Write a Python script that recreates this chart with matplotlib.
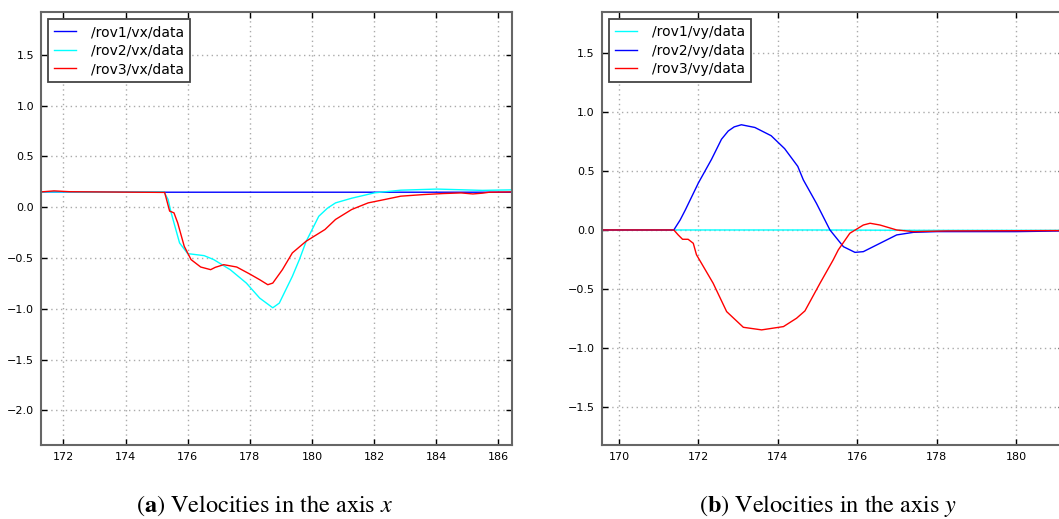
import matplotlib
matplotlib.use("Agg")
import matplotlib.pyplot as plt

plt.rcParams['mathtext.fontset'] = 'stix'

# ---- Data: (a) velocities in x ----
t_rov1_vx = [171.28, 172.0, 175.3, 180.0, 186.44]
v_rov1_vx = [0.150, 0.150, 0.147, 0.147, 0.147]

t_rov2_vx = [171.28, 172.0, 173.0, 175.24, 175.37, 175.47, 175.74, 176.0, 176.53, 176.84,
             177.37, 177.89, 178.32, 178.74, 178.95, 179.37, 179.6, 179.81, 180.22, 180.5,
             180.76, 181.28, 182.02, 182.86, 184.02, 185.49, 186.0, 186.44]
v_rov2_vx = [0.150, 0.150, 0.148, 0.150, 0.076, -0.056, -0.352, -0.457, -0.477, -0.516,
             -0.615, -0.747, -0.895, -0.990, -0.944, -0.681, -0.513, -0.340, -0.09, -0.01,
             0.042, 0.088, 0.141, 0.167, 0.178, 0.165, 0.168, 0.170]

t_rov3_vx = [171.28, 171.7, 172.2, 173.0, 175.26, 175.42, 175.56, 175.68, 175.89, 176.11,
             176.42, 176.74, 176.89, 177.16, 177.58, 178.0, 178.32, 178.58, 178.74, 179.05,
             179.37, 179.81, 180.42, 180.76, 181.28, 181.81, 182.34, 182.86, 183.6, 184.23,
             184.8, 185.18, 185.5, 185.71, 186.44]
v_rov3_vx = [0.150, 0.160, 0.152, 0.150, 0.145, -0.039, -0.056, -0.155, -0.385, -0.516,
             -0.589, -0.615, -0.592, -0.566, -0.589, -0.658, -0.714, -0.763, -0.747, -0.615,
             -0.450, -0.336, -0.22, -0.121, -0.023, 0.042, 0.075, 0.108, 0.124, 0.134,
             0.140, 0.130, 0.138, 0.147, 0.150]

# ---- Data: (b) velocities in y ----
t_rov1_vy = [169.565, 175.0, 177.5, 181.2]
v_rov1_vy = [0.0, 0.0, -0.003, -0.003]

t_rov2_vy = [169.565, 171.38, 171.54, 171.67, 172.0, 172.33, 172.58, 172.75, 172.9, 173.08,
             173.42, 173.83, 174.17, 174.5, 174.64, 174.97, 175.31, 175.65, 175.94, 176.15,
             176.57, 176.99, 177.41, 178.0, 180.0, 181.2]
v_rov2_vy = [0.0, 0.0, 0.085, 0.17, 0.40, 0.60, 0.77, 0.84, 0.875, 0.893,
             0.870, 0.800, 0.690, 0.540, 0.425, 0.226, 0.0, -0.142, -0.190, -0.184,
             -0.113, -0.042, -0.020, -0.014, -0.014, -0.008]

t_rov3_vy = [169.565, 171.38, 171.49, 171.60, 171.74, 171.87, 171.95, 172.37, 172.71, 173.13,
             173.59, 174.14, 174.47, 174.68, 175.06, 175.39, 175.52, 175.81, 176.15, 176.32,
             176.57, 176.99, 177.41, 178.25, 181.2]
v_rov3_vy = [0.0, 0.0, -0.042, -0.079, -0.079, -0.113, -0.210, -0.452, -0.693, -0.826,
             -0.848, -0.820, -0.749, -0.687, -0.452, -0.255, -0.169, -0.028, 0.042, 0.057,
             0.042, 0.0, -0.014, -0.008, -0.005]

labels_x = ['/rov1/vx/data', '/rov2/vx/data', '/rov3/vx/data']
labels_y = ['/rov1/vy/data', '/rov2/vy/data', '/rov3/vy/data']

xticks_a = [172, 174, 176, 178, 180, 182, 184, 186]
yticks_a = [-2.0, -1.5, -1.0, -0.5, 0.0, 0.5, 1.0, 1.5]
xticks_b = [170, 172, 174, 176, 178, 180]
yticks_b = [-1.5, -1.0, -0.5, 0.0, 0.5, 1.0, 1.5]

BLUE, CYAN, RED = '#0000ff', '#00ffff', '#ff0000'

W, H = 1059, 519
fig = plt.figure(figsize=(W / 100, H / 100), dpi=100)
fig.patch.set_facecolor('white')


def style(ax):
    for s in ax.spines.values():
        s.set_color('#666666')
        s.set_linewidth(1.5)
    ax.tick_params(direction='in', length=4, width=1, colors='black', labelsize=8,
                   top=True, right=True, pad=5)
    ax.grid(True, linestyle=(0, (1, 2.5)), color='#aaaaaa', linewidth=1)
    ax.set_axisbelow(True)


def legend(ax):
    lg = ax.legend(loc='upper left', fontsize=10, fancybox=False, framealpha=1,
                   edgecolor='#444444', borderpad=0.45, handlelength=1.6,
                   handletextpad=1.05, labelspacing=0.32, borderaxespad=0.5)
    lg.get_frame().set_linewidth(1.3)


# (a)
axa = fig.add_axes([41 / W, 1 - 445 / H, (512 - 41) / W, (445 - 12) / H])
axa.plot(t_rov1_vx, v_rov1_vx, color=BLUE, lw=1, label=labels_x[0])
axa.plot(t_rov2_vx, v_rov2_vx, color=CYAN, lw=1, label=labels_x[1])
axa.plot(t_rov3_vx, v_rov3_vx, color=RED, lw=1, label=labels_x[2])
axa.set_xlim(171.28, 186.44)
axa.set_ylim(-2.34, 1.92)
axa.set_xticks(xticks_a)
axa.set_yticks(yticks_a)
style(axa)
legend(axa)

# (b)
x0b = 601.7
x1b = 1064
axb = fig.add_axes([x0b / W, 1 - 445 / H, (x1b - x0b) / W, (445 - 12) / H])
axb.plot(t_rov1_vy, v_rov1_vy, color=CYAN, lw=1, label=labels_y[0])
axb.plot(t_rov2_vy, v_rov2_vy, color=BLUE, lw=1, label=labels_y[1])
axb.plot(t_rov3_vy, v_rov3_vy, color=RED, lw=1, label=labels_y[2])
axb.set_xlim(169.565, 169.565 + (x1b - x0b) / 39.73)
axb.set_ylim(-1.825, 1.85)
axb.set_xticks(xticks_b)
axb.set_yticks(yticks_b)
style(axb)
legend(axb)

fig.text(265 / W, 1 - 506 / H, r'($\mathbf{a}$) Velocities in the axis $x$',
         ha='center', va='center', fontsize=17.5, family='STIXGeneral')
fig.text(828 / W, 1 - 506 / H, r'($\mathbf{b}$) Velocities in the axis $y$',
         ha='center', va='center', fontsize=17.5, family='STIXGeneral')

fig.savefig('out.png', dpi=100, facecolor='white')
